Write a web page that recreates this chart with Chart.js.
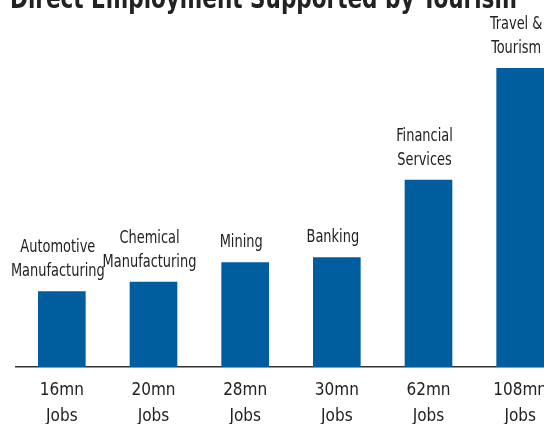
<!DOCTYPE html>
<html>
<head>
<meta charset="utf-8">
<script src="https://cdn.jsdelivr.net/npm/chart.js@4"></script>
<style>
html, body { margin: 0; padding: 0; overflow: hidden; background: #fff; width: 544px; height: 424px; }
#caixa { position: absolute; left: 0; top: -24px; width: 566px; height: 470px; }
</style>
</head>
<body>
<div id="caixa"><canvas id="grafico"></canvas></div>
<script>
// dados
const titulo = 'Direct Employment Supported by Tourism';
const setores = [
    ['Automotive', 'Manufacturing'],
    ['Chemical', 'Manufacturing'],
    ['Mining'],
    ['Banking'],
    ['Financial', 'Services'],
    ['Travel &', 'Tourism']
];
const empregos = [16, 20, 28, 30, 62, 108];   // milhoes de empregos
const rotulosEixo = empregos.map(v => [v + 'mn', 'Jobs']);

const fonte = "'DejaVu Sans Condensed', 'Liberation Sans Narrow', sans-serif";
const azul = '#005e9e';

// texto comprimido na horizontal (a fonte original e bem estreita)
function textoEstreito(ctx, t, x, y, fator) {
    ctx.save();
    ctx.translate(x, y);
    ctx.scale(fator, 1);
    ctx.fillText(t, 0, 0);
    ctx.restore();
}

// titulo (cortado no topo, como no original) + nomes dos setores em cima das barras
const rotulosTopo = {
    id: 'rotulosTopo',
    afterDatasetsDraw(chart) {
        const ctx = chart.ctx;
        ctx.save();
        ctx.fillStyle = '#222';
        ctx.font = 'bold 28px ' + fonte;
        ctx.textAlign = 'left';
        ctx.textBaseline = 'alphabetic';
        textoEstreito(ctx, titulo, 10, 32, 0.855);

        const barras = chart.getDatasetMeta(0).data;
        ctx.font = '18px ' + fonte;
        ctx.textAlign = 'center';
        ctx.textBaseline = 'middle';
        barras.forEach((b, i) => {
            const linhas = setores[i];
            linhas.forEach((t, j) => {
                const y = b.y - 20 - (linhas.length - 1 - j) * 24;
                textoEstreito(ctx, t, b.x - 4, y, 0.8);
            });
        });
        ctx.restore();
    }
};

const ctx = document.getElementById('grafico');

new Chart(ctx, {
    type: 'bar',
    data: {
        labels: rotulosEixo,
        datasets: [{
            data: empregos,
            base: -15,
            backgroundColor: azul,
            barThickness: 47
        }]
    },
    options: {
        responsive: true,
        maintainAspectRatio: false,
        animation: false,
        layout: { padding: { left: 16, right: 0, top: 51, bottom: 14 } },
        plugins: {
            legend: { display: false },
            tooltip: { enabled: false },
            title: { display: false }
        },
        scales: {
            x: {
                grid: { display: false },
                border: { display: true, color: '#333', width: 1.5 },
                ticks: {
                    padding: 2,
                    color: '#222',
                    maxRotation: 0,
                    autoSkip: false,
                    font: { family: fonte, size: 17, lineHeight: 1.56 }
                }
            },
            y: {
                display: false,
                min: -15,
                max: 125
            }
        }
    },
    plugins: [rotulosTopo]
});
</script>
</body>
</html>
